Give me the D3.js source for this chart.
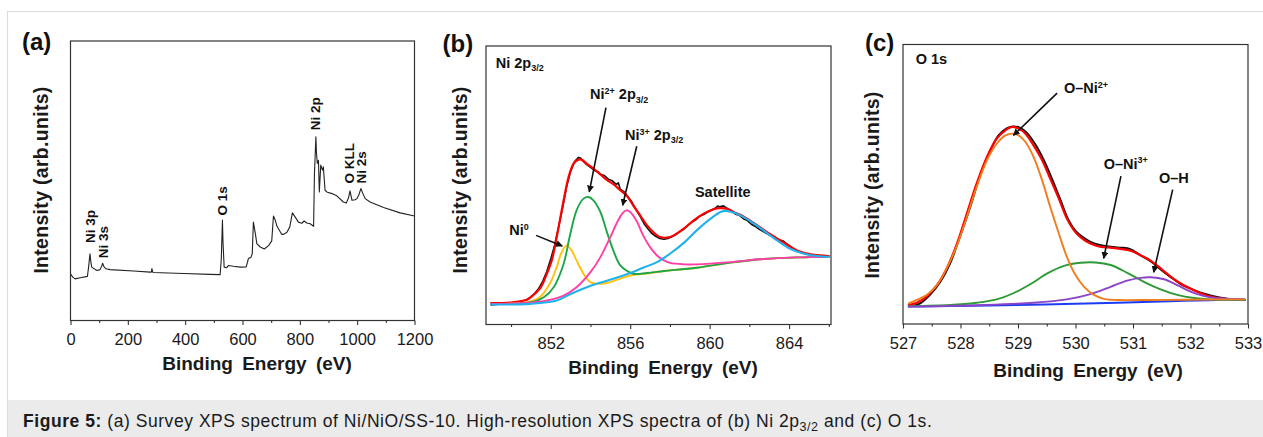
<!DOCTYPE html>
<html>
<head>
<meta charset="utf-8">
<script src="https://cdn.jsdelivr.net/npm/d3@7/dist/d3.min.js"></script>
<style>
  html, body { margin: 0; padding: 0; background: #fff; }
  svg { display: block; font-family: Arial, "Liberation Sans", Helvetica, sans-serif; }
</style>
</head>
<body>
<svg id="fig" width="1263" height="437"></svg>
<script>
// ---------- (a) survey spectrum: [binding energy (eV), intensity (a.u.)] ----------
const surveySpectrum = [
  [0,16.7],[8,15.5],[16,14.9],[34,15.3],[59,15.8],[63,19.0],[68,23.9],[71,21.0],[74,19.1],
  [92,17.9],[103,18.2],[109,19.5],[112,20.5],[117,19.2],[124,18.5],[138,18.2],[220,17.7],
  [278,17.3],[282,17.3],[284,18.6],[287,17.3],[290,17.2],[394,16.8],[487,16.5],[522,16.4],
  [526,22.0],[530,35.9],[532,28.0],[536,19.1],[545,18.9],[551,19.7],[568,19.4],[592,19.1],
  [613,19.2],[621,22.3],[629,22.5],[634,23.9],[638,35.2],[645,31.0],[650,27.5],[662,26.3],
  [676,25.6],[691,26.8],[702,28.5],[708,37.4],[714,36.0],[720,33.8],[737,30.8],[745,30.9],
  [755,31.6],[765,33.5],[774,38.5],[784,37.0],[795,35.2],[801,35.0],[807,34.8],[815,35.6],
  [824,34.9],[836,34.6],[848,33.7],[851,52.6],[856,65.7],[858,60.0],[861,56.2],[865,57.3],
  [868,46.0],[873,55.6],[879,53.8],[882,55.0],[888,46.6],[894,46.0],[912,45.4],[929,44.6],
  [952,42.4],[962,42.0],[970,44.0],[975,46.4],[982,43.0],[993,43.2],[999,43.6],[1006,45.0],
  [1013,47.2],[1020,45.4],[1028,43.6],[1045,42.4],[1092,40.4],[1150,38.5],[1200,37.4]
];
const surveyPeaks = [
  { text: "Ni 3p", e: 86,   i: 27.7 },
  { text: "Ni 3s", e: 130,  i: 22.3 },
  { text: "O 1s",  e: 545,  i: 37.6 },
  { text: "Ni 2p", e: 872,  i: 68.1 },
  { text: "O KLL", e: 988,  i: 49.0 },
  { text: "Ni 2s", e: 1031, i: 49.0 }
];
const surveyMajorTicks = [0, 200, 400, 600, 800, 1000, 1200];
const surveyMinorTicks = [100, 300, 500, 700, 900, 1100];

// ---------- (b) Ni 2p3/2 region ----------
const niRaw = [
  [849.0,7.0],[849.5,7.4],[850.0,7.8],[850.5,8.3],[850.8,8.9],[851.0,9.9],[851.2,11.2],
  [851.4,13.0],[851.6,15.6],[851.8,19.0],[852.0,23.5],[852.2,28.6],[852.4,35.2],[852.6,42.0],
  [852.8,49.5],[853.0,55.0],[853.2,58.5],[853.4,60.0],[853.5,59.8],[853.6,58.9],[853.8,57.5],
  [854.0,56.4],[854.2,55.3],[854.4,54.8],[854.5,53.9],[854.7,53.5],[854.9,52.2],[855.1,51.6],
  [855.3,50.3],[855.4,50.9],[855.5,48.6],[855.7,47.6],[855.9,45.8],[856.1,43.8],[856.3,41.2],
  [856.5,38.8],[856.7,36.2],[856.9,34.3],[857.1,32.6],[857.3,31.6],[857.5,30.9],[857.7,30.6],
  [857.9,30.9],[858.1,31.5],[858.3,32.3],[858.5,33.4],[858.7,34.2],[858.9,35.6],[859.1,36.8],
  [859.3,37.6],[859.5,38.9],[859.7,39.5],[859.9,40.4],[860.1,41.1],[860.3,41.8],[860.4,42.5],
  [860.5,42.3],[860.7,42.6],[860.9,41.6],[861.1,40.9],[861.3,39.6],[861.5,39.2],[861.7,38.0],
  [861.9,37.3],[862.1,36.0],[862.3,35.2],[862.5,34.2],[862.7,33.4],[862.9,32.6],[863.1,31.8],
  [863.3,31.2],[863.5,30.4],[863.7,30.0],[863.9,28.9],[864.1,27.9],[864.3,26.8],[864.5,26.0],
  [864.8,25.4],[865.1,25.0],[865.5,24.8],[866.0,24.6]
];
const niFit = [
  [849.0,7.7],[850.1,8.0],[850.8,8.9],[851.1,10.4],[851.5,13.4],[851.8,18.2],[852.05,23.0],
  [852.3,31.4],[852.65,44.6],[852.9,53.0],[853.15,57.8],[853.4,59.2],[853.55,59.2],[853.8,57.8],
  [854.15,56.0],[854.5,53.9],[854.8,52.0],[855.15,50.4],[855.5,48.2],[855.85,46.0],[856.15,42.8],
  [856.5,39.2],[856.85,35.6],[857.2,32.9],[857.5,31.4],[857.85,31.2],[858.2,32.0],[858.7,34.4],
  [859.2,37.4],[859.7,39.8],[860.2,41.4],[860.55,41.8],[860.9,41.5],[861.2,40.4],[861.7,38.8],
  [862.4,35.6],[863.05,32.4],[863.75,29.3],[864.4,26.6],[865.1,25.2],[866.0,24.6]
];
const niMetal = [
  [849.0,7.4],[850.8,8.0],[851.45,9.8],[851.95,14.6],[852.3,20.6],[852.55,26.0],[852.8,28.4],
  [853.05,26.6],[853.3,23.0],[853.65,18.2],[854.0,15.2],[854.3,14.6],[854.8,14.9],[855.35,16.1],
  [856.0,17.6],[856.7,18.2],[857.7,19.2],[859.35,20.4],[861.05,22.2],[862.7,23.5],[864.4,24.1],
  [866.0,24.3]
];
const ni2Plus = [
  [849.0,7.4],[850.95,7.9],[851.65,9.8],[852.15,13.4],[852.65,21.8],[852.95,31.4],[853.3,41.0],
  [853.65,45.2],[853.9,45.8],[854.15,44.6],[854.5,40.4],[854.8,33.8],[855.15,26.6],[855.5,21.2],
  [855.85,19.2],[856.15,18.2],[856.85,18.5],[857.7,19.2],[859.35,20.4],[861.05,22.2],[862.7,23.5],
  [864.4,24.1],[866.0,24.3]
];
const ni3Plus = [
  [849.0,7.4],[850.95,7.8],[851.8,8.6],[852.65,10.4],[853.3,13.4],[854.0,18.8],[854.5,24.2],
  [855.0,31.4],[855.35,36.8],[855.6,39.8],[855.8,41.0],[856.0,40.4],[856.35,36.8],[856.65,32.0],
  [857.0,27.8],[857.35,24.8],[857.7,23.0],[858.0,22.1],[858.7,21.6],[859.35,21.6],[861.05,22.4],
  [862.7,23.5],[864.4,24.1],[866.0,24.3]
];
const niSatellite = [
  [849.0,7.2],[850.95,7.4],[852.3,8.6],[852.95,10.8],[853.5,12.5],[854.3,14.6],[855.15,16.4],
  [856.0,18.5],[856.65,20.4],[857.35,22.4],[858.0,25.4],[858.7,29.3],[859.35,33.8],[860.05,38.0],
  [860.55,40.4],[860.8,40.8],[861.05,40.5],[861.55,39.2],[862.05,37.1],[862.7,33.8],[863.4,30.2],
  [864.05,27.2],[864.75,25.4],[865.4,24.6],[866.0,24.3]
];
const niMajorTicks = [852, 856, 860, 864];
const niMinorTicks = [850, 854, 858, 862, 866];
const niRange = [848.74, 866.11];

// ---------- (c) O 1s region ----------
const oRaw = [
  [527.15,6.4],[527.3,7.4],[527.47,10.4],[527.65,15.1],[527.82,21.7],[527.99,31.2],[528.17,41.9],
  [528.34,53.2],[528.52,62.1],[528.66,67.5],[528.81,70.1],[528.92,70.7],[529.04,70.2],[529.16,68.3],
  [529.3,64.3],[529.45,58.6],[529.59,52.0],[529.74,44.3],[529.88,37.1],[530.0,33.3],[530.12,31.2],
  [530.26,29.4],[530.44,28.2],[530.61,27.6],[530.78,27.3],[530.9,27.1],[530.99,26.4],[531.13,24.6],
  [531.31,22.4],[531.48,19.5],[531.66,16.7],[531.83,14.3],[532.01,12.6],[532.18,11.2],[532.35,10.2],
  [532.53,9.4],[532.7,8.9],[532.94,8.6]
];
const oFit = [
  [527.1,6.8],[527.24,7.6],[527.41,9.8],[527.59,13.9],[527.76,19.9],[527.94,28.8],[528.11,39.5],
  [528.28,50.2],[528.46,59.8],[528.63,66.3],[528.78,69.3],[528.9,70.5],[529.01,69.9],[529.13,68.1],
  [529.27,63.9],[529.42,58.6],[529.56,52.0],[529.71,44.9],[529.85,37.7],[529.97,33.6],[530.09,31.0],
  [530.26,28.8],[530.44,27.6],[530.61,27.3],[530.78,26.9],[530.96,26.2],[531.13,24.6],[531.31,22.6],
  [531.48,19.9],[531.66,16.9],[531.83,14.5],[532.01,12.5],[532.18,11.0],[532.35,9.8],[532.53,9.2],
  [532.7,8.8],[532.94,8.6]
];
const oNi2 = [
  [527.1,7.4],[527.24,8.6],[527.41,10.4],[527.59,13.9],[527.76,19.9],[527.94,28.2],[528.11,38.3],
  [528.28,49.0],[528.46,58.6],[528.63,64.5],[528.78,67.5],[528.9,68.1],[529.01,67.5],[529.13,65.1],
  [529.27,59.8],[529.42,51.4],[529.56,41.9],[529.71,32.4],[529.85,24.0],[530.0,17.5],[530.15,13.3],
  [530.32,10.4],[530.49,9.0],[530.73,8.6],[531.31,8.6],[531.89,8.7],[532.94,8.8]
];
const oNi3 = [
  [527.1,6.4],[527.82,6.8],[528.28,7.6],[528.63,8.8],[528.92,11.0],[529.22,14.3],[529.51,18.1],
  [529.8,20.8],[530.09,21.9],[530.35,22.0],[530.61,21.1],[530.9,18.3],[531.19,15.1],[531.48,12.4],
  [531.77,10.4],[532.06,9.3],[532.35,8.8],[532.94,8.6]
];
const oOH = [
  [527.1,6.2],[528.4,6.8],[529.27,7.6],[529.85,8.8],[530.26,10.7],[530.61,13.3],[530.9,15.5],
  [531.13,16.5],[531.31,16.7],[531.54,16.0],[531.77,13.9],[532.01,11.5],[532.24,10.0],[532.47,9.2],
  [532.94,8.8]
];
const oBackground = [[527.1,6.2],[528.98,6.8],[530.73,7.6],[531.89,8.3],[532.94,8.8]];
const oMajorTicks = [527, 528, 529, 530, 531, 532, 533];
const oMinorTicks = [527.5, 528.5, 529.5, 530.5, 531.5, 532.5];

const captionLead = "Figure 5:";
const captionBody = " (a) Survey XPS spectrum of Ni/NiO/SS-10. High-resolution XPS spectra of (b) Ni 2p";
const captionSub = "3/2";
const captionTail = " and (c) O 1s.";

// ---------- drawing ----------
const svg = d3.select("#fig");
const W = 1263, H = 437;
svg.append("rect").attr("width", W).attr("height", H).attr("fill", "#fff");

// page frame and caption band
svg.append("line").attr("x1", 7).attr("x2", W).attr("y1", 11.5).attr("y2", 11.5)
  .attr("stroke", "#dcdcdc").attr("stroke-width", 1.2);
svg.append("line").attr("x1", 7.5).attr("x2", 7.5).attr("y1", 11).attr("y2", H)
  .attr("stroke", "#dcdcdc").attr("stroke-width", 1.2);
svg.append("rect").attr("x", 8).attr("y", 400).attr("width", W - 8).attr("height", H - 400)
  .attr("fill", "#ebebeb");

const cap = svg.append("text").attr("x", 23).attr("y", 427)
  .attr("font-size", 17.5).attr("letter-spacing", 0.55).attr("fill", "#1a1a1a");
cap.append("tspan").attr("font-weight", "bold").text(captionLead);
cap.append("tspan").text(captionBody);
cap.append("tspan").attr("font-size", 12.5).attr("dy", 4).text(captionSub);
cap.append("tspan").attr("dy", -4).text(captionTail);

function panel(cfg) {
  const g = svg.append("g");
  const x = d3.scaleLinear().domain(cfg.xDomain).range([cfg.left, cfg.right]);
  const y = d3.scaleLinear().domain([0, 100]).range([cfg.bottom, cfg.top]);

  // minor ticks
  g.append("g").attr("transform", `translate(0,${cfg.bottom})`)
    .call(d3.axisBottom(x).tickValues(cfg.minor).tickSize(2.5).tickFormat(""))
    .call(a => a.select(".domain").remove())
    .call(a => a.selectAll("line").attr("stroke", "#333").attr("stroke-width", 1.1));
  // major ticks with labels
  g.append("g").attr("transform", `translate(0,${cfg.bottom})`)
    .call(d3.axisBottom(x).tickValues(cfg.major).tickSize(4.5).tickPadding(8.3).tickFormat(d3.format("d")))
    .call(a => a.select(".domain").remove())
    .call(a => a.selectAll("line").attr("stroke", "#333").attr("stroke-width", 1.1))
    .call(a => a.selectAll("text").attr("font-size", 16.5).attr("fill", "#1a1a1a")
      .attr("font-family", "Arial, 'Liberation Sans', sans-serif"));

  // curves
  cfg.series.forEach(s => {
    const line = d3.line().x(d => x(d[0])).y(d => y(d[1])).curve(s.curve || d3.curveLinear);
    g.append("path").datum(s.data).attr("d", line)
      .attr("fill", "none").attr("stroke", s.color).attr("stroke-width", s.width)
      .attr("stroke-linejoin", "round").attr("stroke-linecap", "round");
  });

  // frame
  g.append("rect").attr("x", cfg.left).attr("y", cfg.top)
    .attr("width", cfg.right - cfg.left).attr("height", cfg.bottom - cfg.top)
    .attr("fill", "none").attr("stroke", "#333").attr("stroke-width", 1.2);

  // titles
  g.append("text").attr("x", cfg.xTitleX).attr("y", cfg.xTitleY)
    .attr("text-anchor", "middle").attr("font-weight", "bold").attr("font-size", 19)
    .attr("word-spacing", 4).attr("fill", "#1a1a1a").text("Binding Energy (eV)");
  g.append("text")
    .attr("transform", `translate(${cfg.yTitleX},${cfg.yTitleY}) rotate(-90)`)
    .attr("text-anchor", "middle").attr("font-weight", "bold").attr("font-size", 19.5)
    .attr("letter-spacing", 0.3).attr("fill", "#1a1a1a").text("Intensity (arb.units)");
  g.append("text").attr("x", cfg.letterX).attr("y", cfg.letterY)
    .attr("font-weight", "bold").attr("font-size", 24).attr("fill", "#111").text(cfg.letter);

  return { g, x, y };
}

// arrowhead
svg.append("defs").append("marker").attr("id", "arrow")
  .attr("viewBox", "0 0 10 10").attr("refX", 9).attr("refY", 5)
  .attr("markerWidth", 7).attr("markerHeight", 7).attr("markerUnits", "userSpaceOnUse")
  .attr("orient", "auto")
  .append("path").attr("d", "M0,0 L10,5 L0,10 z").attr("fill", "#111");

function label(g, px, py, parts, size) {
  const t = g.append("text").attr("x", px).attr("y", py).attr("font-weight", "bold")
    .attr("font-size", size).attr("fill", "#111");
  parts.forEach(p => {
    const s = t.append("tspan").text(p.t);
    if (p.sup) s.attr("font-size", size * 0.62).attr("dy", -size * 0.38);
    else if (p.sub) s.attr("font-size", size * 0.62).attr("dy", size * 0.22);
    if (p.back) s.attr("dy", p.back * size);
  });
}
function arrow(g, x1, y1, x2, y2) {
  g.append("line").attr("x1", x1).attr("y1", y1).attr("x2", x2).attr("y2", y2)
    .attr("stroke", "#111").attr("stroke-width", 1.6).attr("marker-end", "url(#arrow)");
}

// (a)
const pa = panel({
  letter: "(a)", letterX: 22, letterY: 50,
  left: 70.5, right: 414.5, top: 41, bottom: 320.5, xDomain: [0, 1200],
  major: surveyMajorTicks, minor: surveyMinorTicks,
  xTitleX: 257, xTitleY: 370, yTitleX: 48, yTitleY: 180,
  series: [{ data: surveySpectrum, color: "#222", width: 1.1 }]
});
surveyPeaks.forEach(p => {
  pa.g.append("text")
    .attr("transform", `translate(${pa.x(p.e)},${pa.y(p.i)}) rotate(-90)`)
    .attr("font-weight", "bold").attr("font-size", 13.5).attr("fill", "#111").text(p.text);
});

// (b)
const pb = panel({
  letter: "(b)", letterX: 442.5, letterY: 51.5,
  left: 486, right: 831, top: 46, bottom: 324.5, xDomain: niRange,
  major: niMajorTicks, minor: niMinorTicks,
  xTitleX: 663, xTitleY: 374, yTitleX: 467, yTitleY: 180,
  series: [
    { data: niRaw, color: "#111", width: 1.6 },
    { data: niFit, color: "#ff0000", width: 2.2, curve: d3.curveCatmullRom },
    { data: niMetal, color: "#ffc20e", width: 1.9, curve: d3.curveCatmullRom },
    { data: ni2Plus, color: "#1fa64a", width: 1.9, curve: d3.curveCatmullRom },
    { data: ni3Plus, color: "#ff3fa6", width: 1.9, curve: d3.curveCatmullRom },
    { data: niSatellite, color: "#1fb2ec", width: 2.1, curve: d3.curveCatmullRom }
  ]
});
label(pb.g, pb.x(849.23), pb.y(92.2), [{ t: "Ni 2p" }, { t: "3/2", sub: true }], 14.5);
label(pb.g, pb.x(853.98), pb.y(80.8), [{ t: "Ni" }, { t: "2+", sup: true }, { t: " 2p", back: 0.38 }, { t: "3/2", sub: true }], 14.5);
label(pb.g, pb.x(855.74), pb.y(66.2), [{ t: "Ni" }, { t: "3+", sup: true }, { t: " 2p", back: 0.38 }, { t: "3/2", sub: true }], 14.5);
label(pb.g, pb.x(859.26), pb.y(45.8), [{ t: "Satellite" }], 14.5);
label(pb.g, pb.x(849.91), pb.y(32.0), [{ t: "Ni" }, { t: "0", sup: true }], 14.5);
arrow(pb.g, pb.x(854.78), pb.y(77.9), pb.x(853.94), pb.y(47.6));
arrow(pb.g, pb.x(856.33), pb.y(64.0), pb.x(855.62), pb.y(42.8));
arrow(pb.g, pb.x(851.26), pb.y(32.0), pb.x(852.58), pb.y(28.2));

// (c)
const pc = panel({
  letter: "(c)", letterX: 865, letterY: 51,
  left: 903, right: 1248, top: 44.5, bottom: 324, xDomain: [527, 533],
  major: oMajorTicks, minor: oMinorTicks,
  xTitleX: 1088, xTitleY: 376.5, yTitleX: 879, yTitleY: 185,
  series: [
    { data: oRaw, color: "#111", width: 2.0, curve: d3.curveCatmullRom },
    { data: oFit, color: "#ff0000", width: 2.2, curve: d3.curveCatmullRom },
    { data: oBackground, color: "#1c3cf2", width: 1.9, curve: d3.curveCatmullRom },
    { data: oNi3, color: "#2e9a35", width: 1.9, curve: d3.curveCatmullRom },
    { data: oOH, color: "#8a45c8", width: 1.9, curve: d3.curveCatmullRom },
    { data: oNi2, color: "#f07e1c", width: 1.9, curve: d3.curveCatmullRom }
  ]
});
label(pc.g, pc.x(527.22), pc.y(92.9), [{ t: "O 1s" }], 14.5);
label(pc.g, pc.x(529.80), pc.y(82.6), [{ t: "O\u2013Ni" }, { t: "2+", sup: true }], 14.5);
label(pc.g, pc.x(530.49), pc.y(55.6), [{ t: "O\u2013Ni" }, { t: "3+", sup: true }], 14.5);
label(pc.g, pc.x(531.45), pc.y(50.3), [{ t: "O\u2013H" }], 14.5);
arrow(pc.g, pc.x(529.68), pc.y(82.6), pc.x(528.92), pc.y(67.5));
arrow(pc.g, pc.x(530.79), pc.y(52.9), pc.x(530.49), pc.y(23.5));
arrow(pc.g, pc.x(531.69), pc.y(48.1), pc.x(531.36), pc.y(18.5));
</script>
</body>
</html>
